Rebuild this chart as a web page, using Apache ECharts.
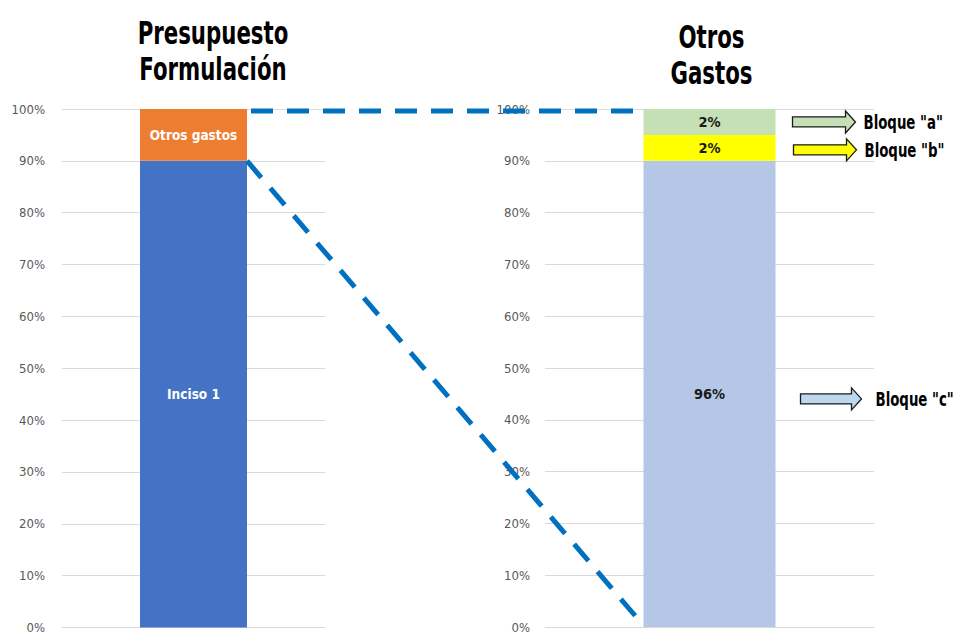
<!DOCTYPE html>
<html>
<head>
<meta charset="utf-8">
<script src="https://cdn.jsdelivr.net/npm/echarts@6/dist/echarts.min.js"></script>
<style>
html,body{margin:0;padding:0;background:#fff;}
#c{width:961px;height:634px;}
</style>
</head>
<body>
<div id="c"></div>
<script>
// ---- data ----
const leftCategories = ['Presupuesto Formulación'];
const leftSeriesNames = ['Inciso 1', 'Otros gastos'];
const leftValues = [90, 10];
const rightCategories = ['Otros Gastos'];
const rightSeriesNames = ['Bloque "c"', 'Bloque "b"', 'Bloque "a"'];
const rightValues = [90, 5, 5];
const rightLabels = ['96%', '2%', '2%'];
const yTicks = [0, 10, 20, 30, 40, 50, 60, 70, 80, 90, 100];
const leftTitle = 'Presupuesto\nFormulación';
const rightTitle = 'Otros\nGastos';

const FONT = '"DejaVu Sans Condensed", "Liberation Sans Narrow", sans-serif';
const leftColors = ['#4472C4', '#ED7D31'];
const rightColors = ['#B4C7E7', '#FFFF00', '#C5E0B4'];
const arrowColors = ['#BDD7EE', '#FFFF00', '#C5E0B4'];
const LBW = 107, RBW = 132;

const chart = echarts.init(document.getElementById('c'), null, {renderer: 'svg'});

function yAxis(gi, margin) {
  return {
    type: 'value', gridIndex: gi, min: yTicks[0], max: yTicks[yTicks.length - 1], interval: 10,
    axisLine: {show: false}, axisTick: {show: false},
    axisLabel: {formatter: '{value}%', color: '#595959', fontFamily: FONT, fontSize: 13, margin: margin},
    splitLine: {lineStyle: {color: '#D9D9D9', width: 1.2}}
  };
}
function xAxis(gi, cats) {
  return {
    type: 'category', gridIndex: gi, data: cats,
    axisLine: {show: false}, axisTick: {show: false}, axisLabel: {show: false}
  };
}

const series = [];
leftValues.forEach((v, i) => {
  series.push({
    type: 'bar', name: leftSeriesNames[i], xAxisIndex: 0, yAxisIndex: 0, stack: 'L',
    barWidth: LBW, data: [v], itemStyle: {color: leftColors[i]},
    label: {show: true, position: 'inside', formatter: leftSeriesNames[i], color: '#fff',
      fontFamily: FONT, fontWeight: 'bold', fontSize: 13.5}
  });
});
rightValues.forEach((v, i) => {
  series.push({
    type: 'bar', name: rightSeriesNames[i], xAxisIndex: 1, yAxisIndex: 1, stack: 'R',
    barWidth: RBW, data: [v], itemStyle: {color: rightColors[i]},
    label: {show: true, position: 'inside', formatter: rightLabels[i], color: '#1a1a1a',
      fontFamily: FONT, fontWeight: 'bold', fontSize: 14.5}
  });
});

chart.setOption({
  animation: false,
  backgroundColor: '#fff',
  grid: [
    {left: 62, right: 636, top: 109, bottom: 3},
    {left: 545, right: 87, top: 109, bottom: 7}
  ],
  xAxis: [xAxis(0, leftCategories), xAxis(1, rightCategories)],
  yAxis: [yAxis(0, 17), yAxis(1, 15)],
  series: series
});

// ---- annotations anchored on the axes ----
const g = [];
const lTop = chart.convertToPixel({gridIndex: 0}, [0, 100]);
const lMid = chart.convertToPixel({gridIndex: 0}, [0, leftValues[0]]);
const rTop = chart.convertToPixel({gridIndex: 1}, [0, 100]);
const rBot = chart.convertToPixel({gridIndex: 1}, [0, 0]);
const lRight = lTop[0] + LBW / 2;
const rLeft = rTop[0] - RBW / 2;
const rRight = rTop[0] + RBW / 2;

function narrowText(text, x, y, size, sx, align, vAlign, lh) {
  return {type: 'text', z: 100, x: x, y: y, scaleX: sx,
    style: {text: text, x: 0, y: 0, textAlign: align, textVerticalAlign: vAlign, verticalAlign: vAlign,
      fontFamily: FONT, fontWeight: 'bold', fontSize: size, lineHeight: lh || size * 1.2, fill: '#000'}};
}

g.push(narrowText(leftTitle, 213, 15, 32, 0.74, 'center', 'top', 36));
g.push(narrowText(rightTitle, rTop[0] + 2, 19, 32, 0.74, 'center', 'top', 36));

const dash = {stroke: '#0070C0', lineWidth: 5, lineDash: [22, 14], fill: null};
g.push({type: 'line', z: 100, shape: {x1: lRight + 4, y1: lTop[1] + 2, x2: rLeft, y2: rTop[1] + 2}, style: dash});
g.push({type: 'line', z: 100, shape: {x1: lRight, y1: lMid[1], x2: rLeft - 3, y2: rBot[1] - 5}, style: dash});

// arrows for right blocks
let cum = 0;
const arrowStart = [25, 18, 17];
const textGap = [14, 8, 8];
const shaftLen = [51, 53, 53];
rightValues.forEach((v, i) => {
  const mid = cum + v / 2; cum += v;
  let py = chart.convertToPixel({gridIndex: 1}, [0, mid])[1];
  if (i === 0) py += 5;
  if (i === 1) py += 2;
  const x0 = rRight + arrowStart[i], xb = x0 + shaftLen[i], xt = xb + 10;
  g.push({type: 'polygon', z: 100, shape: {points: [
    [x0, py - 5], [xb, py - 5], [xb, py - 11], [xt, py], [xb, py + 11], [xb, py + 5], [x0, py + 5]
  ]}, style: {fill: arrowColors[i], stroke: '#1a1a1a', lineWidth: 1.3}});
  g.push(narrowText(rightSeriesNames[i], xt + textGap[i], py, 19, 0.78, 'left', 'middle'));
});

chart.setOption({graphic: g});
</script>
</body>
</html>
